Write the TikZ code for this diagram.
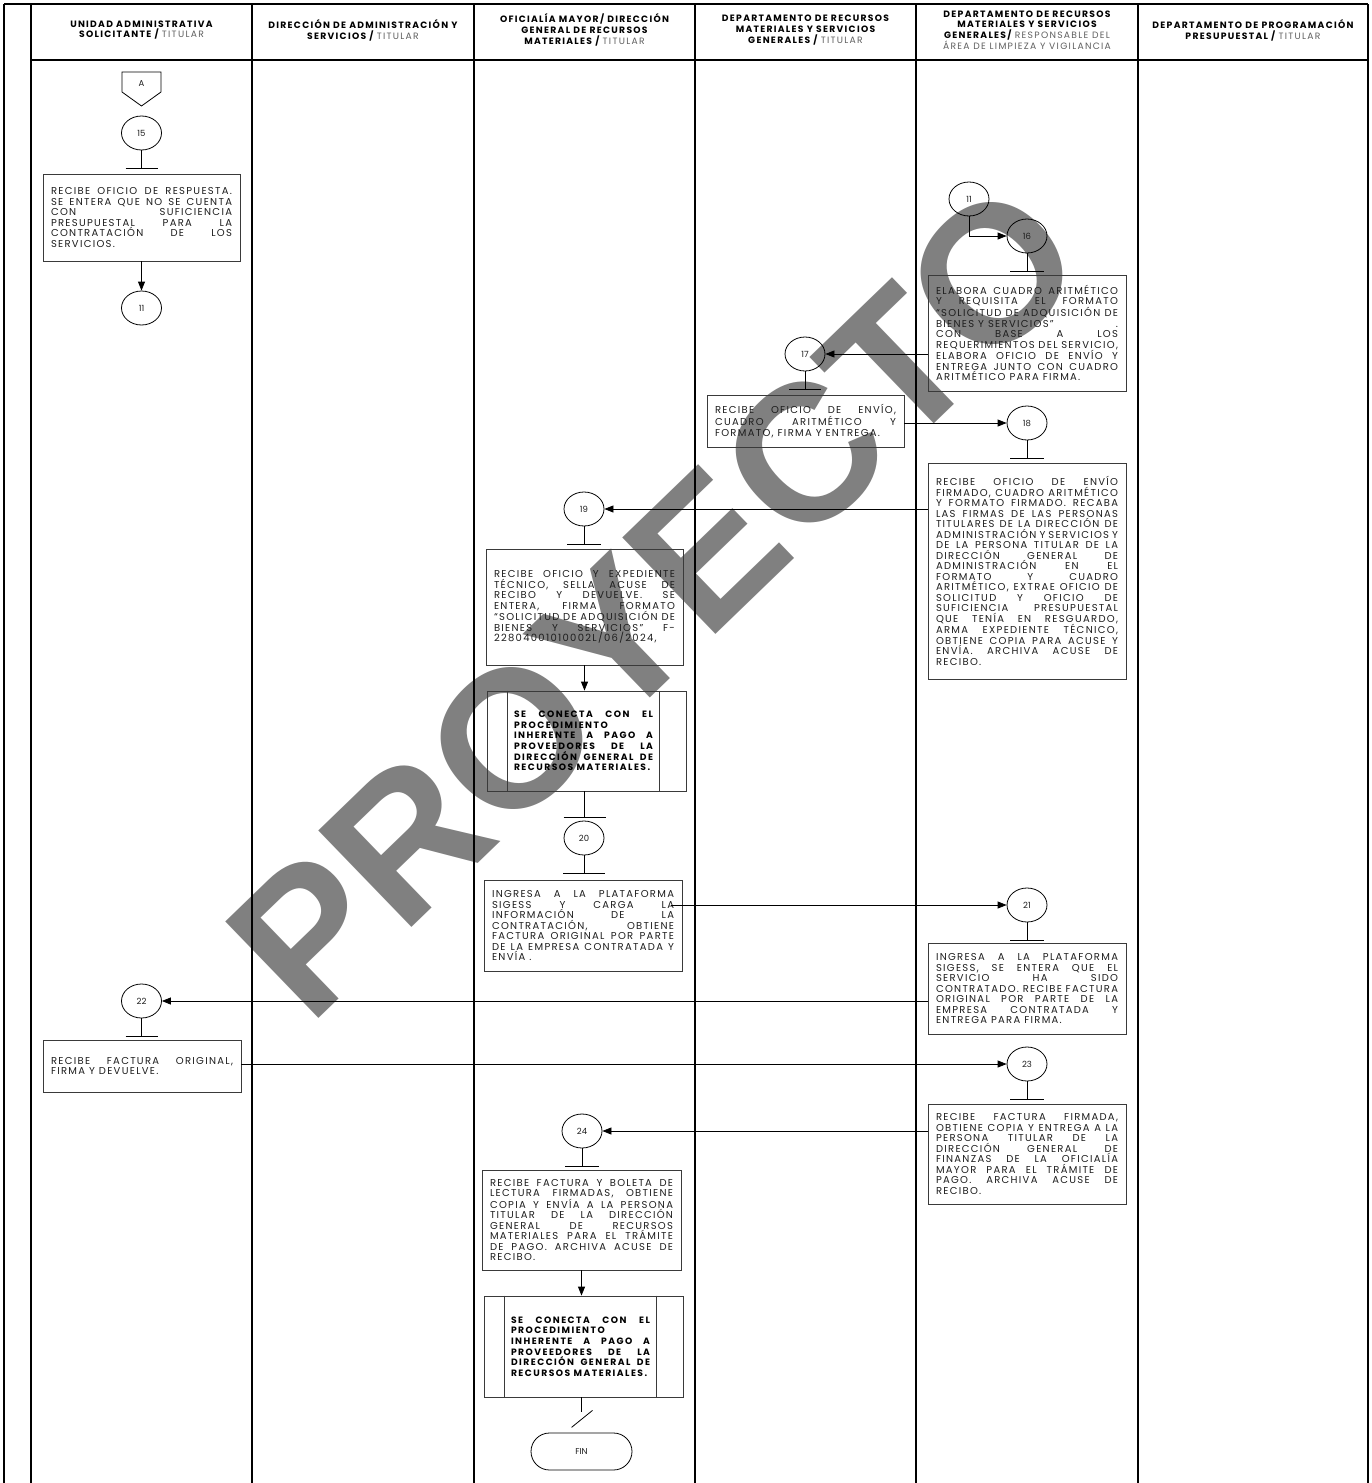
\documentclass[tikz,border=0pt]{standalone}
\usepackage{fontspec}
\usetikzlibrary{arrows.meta,shapes.geometric,shapes.misc,calc}
\newfontfamily\bodyfont[LetterSpace=13]{Poppins}
\newfontfamily\boldfont[LetterSpace=16]{Poppins}
\newfontfamily\headfont[LetterSpace=14]{Poppins}
\newfontfamily\numfont{Poppins}
\newfontfamily\wmfont{Liberation Sans}
\hbadness=10000
\hfuzz=50pt
\newcommand\jl[1]{\noindent\makebox[\hsize][s]{#1}\par}
\newcommand\lastl[1]{\noindent #1\par}
\newcommand\ttl[1]{{\mdseries\color{subtxt}#1}}
\definecolor{wmgray}{HTML}{808080}
\definecolor{boxln}{HTML}{3A3A3A}
\definecolor{txt}{HTML}{1E1E1E}
\definecolor{subtxt}{HTML}{606060}
\tikzset{
  lane/.style={line width=1.4pt, black},
  box/.style={draw=boxln, line width=0.8pt, inner sep=0pt, align=justify, text=txt,
    font=\bodyfont\fontsize{10}{10.5}\selectfont},
  ppbox/.style={draw=boxln, line width=0.8pt, inner sep=0pt, minimum width=199pt, minimum height=100pt},
  pptext/.style={inner sep=0pt, text width=139pt, align=justify, text=black,
    font=\boldfont\bfseries\fontsize{9.2}{10.6}\selectfont},
  conn/.style={draw=black, line width=0.8pt, ellipse, minimum width=40pt, minimum height=34pt,
    inner sep=0pt, font=\numfont\fontsize{8.5}{10}\selectfont, text=txt},
  cl/.style={line width=0.8pt, black},
  arr/.style={cl, -{Triangle[length=9pt,width=7pt]}},
  head/.style={align=center, text=black, font=\headfont\bfseries\fontsize{9.2}{10.8}\selectfont},
  term/.style={draw=black, line width=0.8pt, rounded rectangle, minimum width=101pt, minimum height=37pt,
    inner sep=0pt, font=\numfont\fontsize{8.5}{10}\selectfont, text=txt},
  wm/.style={inner sep=0pt, text=wmgray, rotate=44, font=\wmfont\bfseries\fontsize{195}{195}\selectfont}
}
\newcommand\stemtick[2]{%
  \draw[cl] (#1.south) -- ++(0,18) coordinate (#1k);
  \draw[cl] ([xshift=-#2]#1k) -- ([xshift=#2]#1k);}
\begin{document}
\begin{tikzpicture}[x=1pt,y=-1pt]
\useasboundingbox (0,0) rectangle (1372,1483);
\fill[white] (0,0) rectangle (1372,1483);

% watermark
\node[wm] (wmark) at (655,600) {PROYECTO};

% frame and lanes
\draw[lane] (4,4) -- (1368,4);
\draw[lane] (31,60) -- (1368,60);
\foreach \xx in {4,31,252,474,695,916,1138,1368}{\draw[lane] (\xx,4) -- (\xx,1483);}

% headers
\node[head] (h1) at (141.5,30) {UNIDAD ADMINISTRATIVA\\SOLICITANTE / \ttl{TITULAR}};
\node[head] (h2) at (363,30) {DIRECCIÓN DE ADMINISTRACIÓN Y\\SERVICIOS / \ttl{TITULAR}};
\node[head] (h3) at (584.5,30) {OFICIALÍA MAYOR/ DIRECCIÓN\\GENERAL DE RECURSOS\\MATERIALES / \ttl{TITULAR}};
\node[head] (h4) at (805.5,30) {DEPARTAMENTO DE RECURSOS\\MATERIALES Y SERVICIOS\\GENERALES / \ttl{TITULAR}};
\node[head] (h5) at (1027,30) {DEPARTAMENTO DE RECURSOS\\MATERIALES Y SERVICIOS\\GENERALES/ \ttl{RESPONSABLE DEL}\\\ttl{ÁREA DE LIMPIEZA Y VIGILANCIA}};
\node[head] (h6) at (1253,30) {DEPARTAMENTO DE PROGRAMACIÓN\\PRESUPUESTAL / \ttl{TITULAR}};

% lane 1 start
\node[inner sep=0pt, font=\numfont\fontsize{8.5}{10}\selectfont, text=txt] (offA) at (141.5,84) {A};
\draw[cl] (122,72) -- (161,72) -- (161,92) -- (141.5,106) -- (122,92) -- cycle;
\node[conn] (c15) at (141.5,133) {15};
\stemtick{c15}{16pt}
\node[box, minimum width=197pt, minimum height=87pt, text width=181pt] (b15) at (141.5,217.5)
 {\jl{RECIBE OFICIO DE RESPUESTA.}\jl{SE ENTERA QUE NO SE CUENTA}\jl{CON SUFICIENCIA}\jl{PRESUPUESTAL PARA LA}\jl{CONTRATACIÓN DE LOS}\lastl{SERVICIOS.}};
\node[conn] (c11a) at (141.5,308) {11};
\draw[arr] (b15.south) -- (c11a.north);

% lane 5: 11 -> 16
\node[conn] (c11b) at (969,199) {11};
\node[conn] (c16) at (1027,236) {16};
\draw[arr] (c11b.south) |- (c16.west);
\stemtick{c16}{17pt}
\node[box, minimum width=198pt, minimum height=116pt, text width=182pt] (b16) at (1027,333)
 {\jl{ELABORA CUADRO ARITMÉTICO}\jl{Y REQUISITA EL FORMATO}\jl{“SOLICITUD DE ADQUISICIÓN DE}\jl{BIENES Y SERVICIOS”\hfill.}\jl{CON BASE A LOS}\jl{REQUERIMIENTOS DEL SERVICIO,}\jl{ELABORA OFICIO DE ENVÍO Y}\jl{ENTREGA JUNTO CON CUADRO}\lastl{ARITMÉTICO PARA FIRMA.}};

% 17
\node[conn] (c17) at (805,354) {17};
\draw[arr] (b16.west |- c17.east) -- (c17.east);
\stemtick{c17}{16pt}
\node[box, minimum width=197pt, minimum height=52pt, text width=181pt] (b17) at (805.5,421)
 {\jl{RECIBE OFICIO DE ENVÍO,}\jl{CUADRO ARITMÉTICO Y}\lastl{FORMATO, FIRMA Y ENTREGA.}};

% 18
\node[conn] (c18) at (1027,423) {18};
\draw[arr] (b17.east |- c18.west) -- (c18.west);
\stemtick{c18}{17pt}
\node[box, minimum width=198pt, minimum height=216pt, text width=182pt] (b18) at (1027,571)
 {\jl{RECIBE OFICIO DE ENVÍO}\jl{FIRMADO, CUADRO ARITMÉTICO}\jl{Y FORMATO FIRMADO. RECABA}\jl{LAS FIRMAS DE LAS PERSONAS}\jl{TITULARES DE LA DIRECCIÓN DE}\jl{ADMINISTRACIÓN Y SERVICIOS Y}\jl{DE LA PERSONA TITULAR DE LA}\jl{DIRECCIÓN GENERAL DE}\jl{ADMINISTRACIÓN EN EL}\jl{FORMATO Y CUADRO}\jl{ARITMÉTICO, EXTRAE OFICIO DE}\jl{SOLICITUD Y OFICIO DE}\jl{SUFICIENCIA PRESUPUESTAL}\jl{QUE TENÍA EN RESGUARDO,}\jl{ARMA EXPEDIENTE TÉCNICO,}\jl{OBTIENE COPIA PARA ACUSE Y}\jl{ENVÍA. ARCHIVA ACUSE DE}\lastl{RECIBO.}};

% 19
\node[conn] (c19) at (584,509) {19};
\draw[arr] (b18.west |- c19.east) -- (c19.east);
\stemtick{c19}{17pt}
\node[box, minimum width=197pt, minimum height=116pt, text width=181pt] (b19) at (584.5,607)
 {\jl{RECIBE OFICIO Y EXPEDIENTE}\jl{TÉCNICO, SELLA ACUSE DE}\jl{RECIBO Y DEVUELVE. SE}\jl{ENTERA, FIRMA FORMATO}\jl{“SOLICITUD DE ADQUISICIÓN DE}\jl{BIENES Y SERVICIOS” F-}\lastl{22804001010002L/06/2024,}};

% predefined process 1
\node[ppbox] (p1) at (586.5,741) {};
\draw[boxln, line width=0.8pt] ([xshift=21pt]p1.north west) -- ([xshift=21pt]p1.south west);
\draw[boxln, line width=0.8pt] ([xshift=-27pt]p1.north east) -- ([xshift=-27pt]p1.south east);
\node[pptext] (p1t) at (583.5,741)
 {\jl{SE CONECTA CON EL}\lastl{PROCEDIMIENTO}\jl{INHERENTE A PAGO A}\jl{PROVEEDORES DE LA}\jl{DIRECCIÓN GENERAL DE}\lastl{RECURSOS MATERIALES.}};
\draw[arr] (b19.south) -- (b19.south |- p1.north);

% 20
\draw[cl] (b19.south |- p1.south) -- ++(0,26) coordinate (k20a);
\draw[cl] ([xshift=-21pt]k20a) -- ([xshift=21pt]k20a);
\node[conn] (c20) at (584,838) {20};
\stemtick{c20}{21pt}
\node[box, minimum width=198pt, minimum height=91pt, text width=182pt] (b20) at (583,925.5)
 {\jl{INGRESA A LA PLATAFORMA}\jl{SIGESS Y CARGA LA}\jl{INFORMACIÓN DE LA}\jl{CONTRATACIÓN, OBTIENE}\jl{FACTURA ORIGINAL POR PARTE}\jl{DE LA EMPRESA CONTRATADA Y}\lastl{ENVÍA .}};

% 21
\node[conn] (c21) at (1027,905) {21};
\draw[arr] ([xshift=-11pt]b20.east |- c21.west) -- (c21.west);
\stemtick{c21}{17pt}
\node[box, minimum width=198pt, minimum height=91pt, text width=182pt] (b21) at (1027,988.5)
 {\jl{INGRESA A LA PLATAFORMA}\jl{SIGESS, SE ENTERA QUE EL}\jl{SERVICIO HA SIDO}\jl{CONTRATADO. RECIBE FACTURA}\jl{ORIGINAL POR PARTE DE LA}\jl{EMPRESA CONTRATADA Y}\lastl{ENTREGA PARA FIRMA.}};

% 22
\node[conn] (c22) at (141.5,1001) {22};
\draw[arr] (b21.west |- c22.east) -- (c22.east);
\stemtick{c22}{16pt}
\node[box, minimum width=198pt, minimum height=52pt, text width=182pt] (b22) at (142,1066)
 {\jl{RECIBE FACTURA ORIGINAL,}\lastl{FIRMA Y DEVUELVE.}};

% 23
\node[conn] (c23) at (1027,1064) {23};
\draw[arr] (b22.east |- c23.west) -- (c23.west);
\stemtick{c23}{17pt}
\node[box, minimum width=198pt, minimum height=100pt, text width=182pt] (b23) at (1027,1154)
 {\jl{RECIBE FACTURA FIRMADA,}\jl{OBTIENE COPIA Y ENTREGA A LA}\jl{PERSONA TITULAR DE LA}\jl{DIRECCIÓN GENERAL DE}\jl{FINANZAS DE LA OFICIALÍA}\jl{MAYOR PARA EL TRÁMITE DE}\jl{PAGO. ARCHIVA ACUSE DE}\lastl{RECIBO.}};

% 24
\node[conn] (c24) at (582,1131) {24};
\draw[arr] (b23.west |- c24.east) -- (c24.east);
\stemtick{c24}{17pt}
\node[box, minimum width=199pt, minimum height=100pt, text width=183pt] (b24) at (581.5,1220)
 {\jl{RECIBE FACTURA Y BOLETA DE}\jl{LECTURA FIRMADAS, OBTIENE}\jl{COPIA Y ENVÍA A LA PERSONA}\jl{TITULAR DE LA DIRECCIÓN}\jl{GENERAL DE RECURSOS}\jl{MATERIALES PARA EL TRÁMITE}\jl{DE PAGO. ARCHIVA ACUSE DE}\lastl{RECIBO.}};

% predefined process 2
\node[ppbox, minimum height=101pt] (p2) at (583.5,1346.5) {};
\draw[boxln, line width=0.8pt] ([xshift=21pt]p2.north west) -- ([xshift=21pt]p2.south west);
\draw[boxln, line width=0.8pt] ([xshift=-27pt]p2.north east) -- ([xshift=-27pt]p2.south east);
\node[pptext] (p2t) at (580.5,1346.5)
 {\jl{SE CONECTA CON EL}\lastl{PROCEDIMIENTO}\jl{INHERENTE A PAGO A}\jl{PROVEEDORES DE LA}\jl{DIRECCIÓN GENERAL DE}\lastl{RECURSOS MATERIALES.}};
\draw[arr] (b24.south) -- (b24.south |- p2.north);

% end
\node[term] (fin) at (581.5,1451.5) {FIN};
\draw[cl] (b24.south |- p2.south) -- ++(0,15) coordinate (endk);
\draw[cl] ([xshift=-10pt,yshift=-15pt]endk) -- ([xshift=11pt,yshift=2pt]endk);
\end{tikzpicture}
\end{document}
